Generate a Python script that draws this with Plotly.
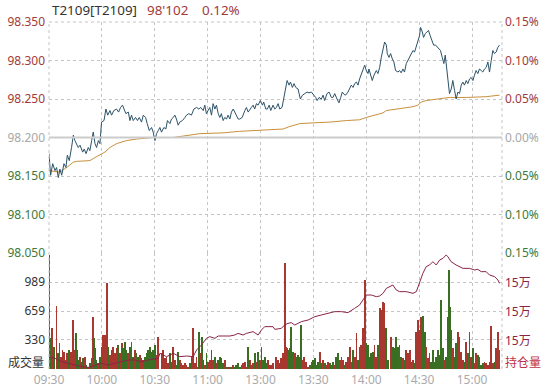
import numpy as np
import plotly.graph_objects as go

# ---------------- data ----------------
pre_close = 98.200
price_ticks = [98.050, 98.100, 98.150, 98.200, 98.250, 98.300, 98.350]
vol_ticks = [330, 659, 989]
oi_ticks = [150060, 150640, 151220]
time_ticks = [0, 30, 60, 90, 120, 150, 180, 210, 240]
time_labels = ["09:30", "10:00", "10:30", "11:00", "13:00", "13:30", "14:00", "14:30", "15:00"]

# minutes since 09:30 (lunch break removed) and last price
price_min_am = [0.0, 0.9, 2.1, 3.4, 4.3, 5.3, 6.2, 7.2, 8.5, 9.6,
                10.4, 11.5, 12.8, 13.8, 14.7, 15.7, 16.6, 17.6, 19.1, 20.0,
                21.0, 22.3, 23.2, 24.2, 25.1, 26.1, 27.0, 28.0, 28.9, 29.8,
                31.2, 32.3, 33.3, 34.6, 35.5, 36.8, 38.3, 39.5, 40.6, 41.7,
                42.7, 43.6, 45.0, 45.9, 46.8, 47.8, 49.1, 50.2, 51.2, 52.5,
                53.5, 54.8, 55.7, 56.9, 58.2, 59.1, 60.1, 61.0, 62.0, 62.9,
                63.8, 65.2, 66.3, 67.2, 68.6, 69.5, 70.5, 71.4, 72.3, 73.3,
                74.2, 75.7, 77.1, 78.0, 79.3, 80.8, 82.2, 83.7, 85.0, 86.1,
                87.5, 88.4, 89.3, 90.3, 91.2, 92.2, 93.1, 94.1, 95.0, 96.0,
                96.9, 97.8, 98.8, 99.7, 100.7, 101.6, 102.6, 103.5, 104.5, 105.4,
                106.3, 107.3, 108.2, 109.6, 111.1, 112.0, 113.0, 113.9, 114.8, 115.8,
                116.7, 117.7, 118.6, 119.9, 121.1, 121.8, 123.0, 123.9, 124.9, 125.8,
                127.1, 128.1, 129.0, 130.0, 130.9, 132.2, 133.2, 134.3, 135.1, 136.2]
price_am = [98.179, 98.151, 98.166, 98.157, 98.161, 98.148, 98.159, 98.151, 98.166, 98.161,
            98.177, 98.170, 98.187, 98.203, 98.196, 98.190, 98.187, 98.190, 98.181, 98.185,
            98.179, 98.187, 98.183, 98.196, 98.207, 98.192, 98.187, 98.196, 98.192, 98.220,
            98.222, 98.237, 98.229, 98.235, 98.229, 98.235, 98.237, 98.233, 98.239, 98.242,
            98.235, 98.231, 98.233, 98.222, 98.229, 98.222, 98.226, 98.222, 98.226, 98.220,
            98.229, 98.226, 98.218, 98.209, 98.213, 98.207, 98.196, 98.205, 98.209, 98.213,
            98.207, 98.213, 98.211, 98.222, 98.218, 98.224, 98.226, 98.229, 98.224, 98.216,
            98.220, 98.222, 98.226, 98.229, 98.231, 98.229, 98.237, 98.239, 98.237, 98.239,
            98.235, 98.242, 98.231, 98.235, 98.239, 98.229, 98.244, 98.237, 98.242, 98.231,
            98.226, 98.231, 98.222, 98.226, 98.224, 98.229, 98.224, 98.233, 98.237, 98.233,
            98.229, 98.224, 98.224, 98.226, 98.235, 98.239, 98.233, 98.237, 98.239, 98.242,
            98.237, 98.244, 98.242, 98.248, 98.242, 98.246, 98.237, 98.237, 98.242, 98.235,
            98.242, 98.237, 98.239, 98.244, 98.237, 98.239, 98.252, 98.263, 98.274, 98.268]

price_min_pm = [137.0, 138.1, 139.0, 140.0, 141.3, 142.6, 143.8, 145.1, 146.4, 147.5,
                148.9, 150.2, 151.3, 152.1, 153.2, 154.5, 155.5, 156.4, 157.7, 158.9,
                160.2, 161.1, 162.1, 163.4, 164.5, 165.5, 166.4, 167.4, 168.3, 169.6,
                170.6, 171.5, 172.5, 173.4, 174.4, 175.3, 176.2, 177.2, 178.1, 179.1,
                180.0, 181.0, 181.5, 182.3, 183.4, 184.4, 185.7, 186.6, 187.6, 188.5,
                189.5, 190.4, 191.4, 191.9, 192.9, 193.8, 194.8, 195.7, 196.6, 198.0,
                198.9, 199.8, 200.8, 201.7, 202.7, 203.6, 204.6, 205.5, 206.5, 207.4,
                208.3, 209.3, 210.2, 210.8, 211.8, 212.5, 213.5, 214.4, 215.3, 216.3,
                217.4, 218.2, 219.3, 220.3, 221.2, 222.1, 223.1, 224.0, 224.8, 225.7,
                226.7, 227.2, 228.2, 229.1, 230.1, 231.0, 232.0, 232.9, 233.9, 234.8,
                235.7, 236.7, 237.6, 238.6, 239.5, 240.5, 241.4, 242.3, 243.3, 244.2,
                245.2, 246.1, 247.1, 248.0, 249.0, 249.9, 250.9, 251.8, 252.7, 253.7,
                254.6, 255.6]
price_pm = [98.272, 98.265, 98.270, 98.265, 98.263, 98.250, 98.255, 98.257, 98.259, 98.258,
            98.259, 98.255, 98.252, 98.248, 98.252, 98.250, 98.255, 98.248, 98.257, 98.259,
            98.252, 98.252, 98.257, 98.250, 98.245, 98.252, 98.259, 98.256, 98.255, 98.259,
            98.263, 98.268, 98.265, 98.270, 98.272, 98.268, 98.276, 98.283, 98.289, 98.294,
            98.287, 98.283, 98.289, 98.281, 98.274, 98.281, 98.287, 98.283, 98.291, 98.304,
            98.315, 98.324, 98.320, 98.309, 98.304, 98.309, 98.302, 98.298, 98.287, 98.285,
            98.287, 98.284, 98.289, 98.285, 98.296, 98.300, 98.304, 98.309, 98.313, 98.311,
            98.317, 98.326, 98.332, 98.343, 98.337, 98.330, 98.335, 98.337, 98.339, 98.332,
            98.326, 98.320, 98.320, 98.317, 98.315, 98.313, 98.304, 98.296, 98.307, 98.289,
            98.270, 98.257, 98.263, 98.274, 98.261, 98.250, 98.259, 98.257, 98.268, 98.272,
            98.268, 98.274, 98.270, 98.276, 98.278, 98.274, 98.281, 98.287, 98.283, 98.289,
            98.287, 98.285, 98.289, 98.291, 98.298, 98.285, 98.300, 98.313, 98.309, 98.311,
            98.317, 98.320]

# average price
avg_min = [0.0, 6.2, 10.0, 13.8, 15.7, 23.2, 26.1, 28.9, 31.7, 34.6,
           38.3, 44.0, 49.7, 59.1, 70.5, 85.6, 98.8, 108.2, 117.7, 127.1,
           132.8, 136.2, 142.2, 149.8, 159.2, 168.7, 176.2, 180.0, 185.7, 189.5,
           191.3, 197.0, 206.5, 209.3, 211.2, 214.0, 221.6, 227.2, 236.7, 248.0, 255.6]
avg_price = [98.157, 98.155, 98.161, 98.168, 98.169, 98.170, 98.174, 98.177, 98.181, 98.187,
             98.192, 98.196, 98.198, 98.200, 98.200, 98.205, 98.206, 98.208, 98.209, 98.210,
             98.211, 98.214, 98.218, 98.219, 98.220, 98.222, 98.223, 98.226, 98.229, 98.232,
             98.235, 98.237, 98.240, 98.242, 98.246, 98.248, 98.250, 98.252, 98.252, 98.253, 98.255]

# volume (成交量)
vol_min = [0.0, 1.1, 1.9, 3.0, 4.3, 4.9, 5.9, 6.8, 7.7, 8.5,
           9.4, 10.4, 11.3, 12.3, 13.2, 13.8, 14.4, 15.1, 15.9, 16.6,
           17.6, 18.5, 19.5, 20.4, 21.3, 22.3, 23.2, 24.2, 25.1, 25.7,
           26.4, 27.0, 28.0, 28.9, 29.8, 30.8, 31.4, 32.1, 32.9, 33.6,
           34.6, 35.5, 36.5, 37.4, 38.3, 39.3, 40.2, 41.2, 42.1, 43.1,
           44.0, 45.0, 45.9, 46.8, 47.8, 48.7, 49.7, 50.6, 51.6, 52.5,
           53.5, 54.4, 55.3, 56.3, 57.2, 58.2, 59.1, 60.1, 61.0, 62.0,
           63.8, 64.8, 65.7, 66.7, 67.6, 68.6, 69.5, 70.5, 71.4, 72.4,
           73.3, 74.2, 75.2, 76.1, 77.1, 78.0, 79.0, 79.9, 80.9, 81.8,
           82.7, 83.7, 84.6, 85.2, 85.9, 86.7, 87.5, 88.4, 89.3, 90.3,
           91.2, 92.2, 93.1, 94.1, 95.0, 96.0, 96.9, 97.9, 98.8, 99.7,
           100.7, 101.6, 102.6, 103.5, 104.5, 105.4, 106.3, 107.3, 108.2, 109.2,
           110.1, 111.1, 112.0, 113.0, 113.9, 114.8, 115.8, 116.7, 117.7, 118.6,
           119.6, 120.5, 121.5, 122.4, 123.4, 124.3, 125.2, 126.2, 127.1,
           129.0, 130.0, 130.9, 131.8, 132.8, 133.7, 134.3, 135.2, 136.0, 136.6,
           137.5, 138.5, 139.4, 140.4, 141.3, 142.2, 142.8, 143.6, 144.7, 146.0,
           147.0, 147.9, 148.9, 149.8, 150.8, 151.7, 152.6, 153.6, 154.5, 155.5,
           156.4, 157.4, 158.3, 159.2, 160.2, 161.1, 162.1, 163.0, 164.0, 164.9,
           165.9, 166.8, 167.7, 168.7, 169.6, 170.6, 171.5, 172.5, 173.4, 174.4,
           175.3, 176.2, 177.2, 178.1, 179.1, 180.0, 181.0, 181.9, 182.9, 183.8,
           184.7, 185.7, 186.6, 187.6, 188.5, 189.5, 190.4, 191.4, 192.3,
           194.2, 195.1, 196.1, 197.0, 198.0, 198.9, 199.9, 200.8, 201.7, 202.7,
           203.6, 204.6, 205.5, 206.5, 207.4, 208.4, 209.3, 210.2, 211.2, 212.1,
           213.1, 214.0, 215.0, 215.9, 216.8, 217.8, 218.7, 219.7, 220.6, 221.6,
           222.5, 223.5, 224.4, 225.3, 226.3, 226.8, 227.6, 228.3, 229.1, 230.0,
           231.0, 231.9, 232.9, 233.8, 234.8, 235.7, 236.7, 237.6, 238.6, 239.5,
           240.4, 241.4, 242.3, 243.3, 244.2, 245.2, 246.1, 247.1, 248.0, 249.0,
           249.9, 250.9, 251.8, 252.8, 253.7, 254.7, 255.6]
volume = [1296, 349, 462, 254, 716, 178, 292, 140, 216, 197,
          102, 178, 216, 197, 64, 557, 216, 413, 216, 102,
          140, 83, 121, 140, 45, 27, 64, 121, 595, 349,
          235, 102, 64, 140, 254, 387, 387, 387, 974, 254,
          159, 216, 254, 178, 235, 273, 178, 292, 235, 311,
          216, 178, 254, 311, 140, 216, 178, 140, 159, 121,
          102, 140, 178, 216, 254, 197, 216, 273, 159, 368,
          178, 216, 121, 140, 64, 178, 83, 254, 102, 45,
          197, 102, 64, 45, 64, 45, 27, 64, 140, 462,
          64, 140, 27, 424, 178, 368, 102, 45, 178, 83,
          102, 216, 102, 140, 64, 102, 140, 121, 64, 102,
          27, 19, 27, 27, 45, 27, 45, 64, 27, 45,
          64, 83, 27, 254, 102, 45, 64, 178, 83, 197,
          102, 254, 102, 140, 64, 102, 45, 45, 64,
          140, 102, 64, 121, 178, 1201, 254, 235, 216, 235,
          481, 197, 178, 140, 159, 140, 500, 102, 140, 83,
          27, 45, 83, 102, 121, 45, 83, 197, 64, 102,
          64, 45, 83, 64, 45, 83, 45, 140, 178, 102,
          140, 102, 45, 83, 140, 254, 83, 216, 140, 406,
          102, 254, 273, 462, 1012, 292, 273, 140, 178, 197,
          273, 140, 273, 690, 671, 766, 747, 462, 102,
          368, 254, 235, 368, 254, 273, 140, 121, 102, 216,
          178, 216, 83, 102, 64, 424, 557, 443, 595, 603,
          424, 254, 121, 178, 83, 216, 83, 140, 216, 159,
          785, 235, 102, 140, 595, 1126, 709, 443, 235, 140,
          292, 424, 368, 197, 102, 83, 311, 178, 424, 140,
          235, 64, 178, 159, 140, 45, 64, 83, 64, 45,
          83, 489, 64, 83, 235, 424, 216]

# open interest (持仓量)
oi_min = [0.0, 3.4, 7.2, 11.0, 14.7, 18.5, 22.3, 26.1, 29.8, 33.6,
          37.4, 41.2, 45.0, 48.7, 52.5, 56.3, 62.0, 62.9, 66.7, 70.5,
          74.2, 78.0, 81.8, 83.7, 86.5, 89.3, 91.2, 94.1, 96.0, 98.8,
          102.6, 105.4, 107.3, 110.1, 112.0, 115.8, 118.6, 120.5, 122.4, 127.1,
          128.1, 131.8, 133.7, 135.6, 137.5, 139.4, 143.2, 147.0, 150.8, 154.5,
          158.3, 162.1, 165.9, 169.6, 173.4, 176.2, 178.1, 180.0, 182.9, 185.7,
          187.6, 189.5, 191.4, 192.3, 193.2, 195.1, 197.0, 198.9, 202.7, 206.5,
          208.4, 210.2, 212.1, 214.0, 215.9, 217.8, 219.7, 221.6, 223.5, 225.3,
          226.3, 228.1, 231.0, 234.8, 238.6, 241.4, 243.3, 245.2, 248.0, 249.9,
          252.8, 254.7, 255.6]
open_interest = [149747, 149713, 149647, 149613, 149580, 149547, 149533, 149580, 149613, 149580,
                 149613, 149647, 149680, 149680, 149647, 149680, 149713, 149813, 149747, 149813,
                 149747, 149760, 149747, 149880, 149980, 150113, 150147, 150113, 150160, 150160,
                 150160, 150180, 150213, 150180, 150213, 150247, 150180, 150280, 150347, 150347,
                 150293, 150313, 150380, 150413, 150427, 150380, 150447, 150480, 150547, 150580,
                 150613, 150647, 150647, 150627, 150713, 150780, 150880, 150980, 150980, 150947,
                 150960, 151013, 151113, 151133, 151147, 151180, 151080, 151047, 151047, 151013,
                 151047, 151247, 151413, 151547, 151580, 151647, 151580, 151680, 151713, 151780,
                 151747, 151647, 151580, 151513, 151513, 151480, 151493, 151447, 151447, 151380,
                 151347, 151280, 151213]

header_code = "T2109[T2109]"
header_price = "98'102"
header_pct = "0.12%"

# ---------------- styling ----------------
RED = "#a23a3a"
GREEN = "#3d7a3a"
GRAY = "#a8a8a8"
GRID = "#c4c4c4"
FONT = "Noto Sans, Noto Sans CJK SC, sans-serif"

price_min = price_min_am + price_min_pm
price = price_am + price_pm

# bar colour: red if price rose over the minute, green otherwise
p_now = np.interp(vol_min, price_min, price)
p_prev = np.interp(np.array(vol_min) - 1.0, price_min, price)
bar_colors = ["#a8372f" if a >= b else "#3a6e22" for a, b in zip(p_now, p_prev)]


def lcol(v):
    if abs(v - pre_close) < 1e-9:
        return GRAY
    return RED if v > pre_close else GREEN


left_text = [f"<span style='color:{lcol(v)}'>{v:.3f}</span>" for v in price_ticks]
right_text = [f"<span style='color:{lcol(v)}'>{abs((v - pre_close) / pre_close * 100):.2f}%</span>"
              for v in price_ticks]
oi_text = [f"{round(v / 10000)}万" for v in oi_ticks]

split = 116 / 347  # volume panel share of plot height

fig = go.Figure()
fig.add_trace(go.Bar(x=vol_min, y=volume, width=0.45, marker=dict(color=bar_colors, line=dict(width=0)),
                     xaxis="x", yaxis="y2", hoverinfo="skip"))
fig.add_trace(go.Scatter(x=oi_min, y=open_interest, mode="lines", line=dict(color="#8a2346", width=1),
                         xaxis="x", yaxis="y4", hoverinfo="skip"))
fig.add_trace(go.Scatter(x=avg_min, y=avg_price, mode="lines", line=dict(color="#c8903c", width=1),
                         xaxis="x", yaxis="y", hoverinfo="skip"))
fig.add_trace(go.Scatter(x=price_min, y=price, mode="lines", line=dict(color="#2b5268", width=1),
                         xaxis="x", yaxis="y", hoverinfo="skip"))
fig.add_trace(go.Scatter(x=[0], y=[pre_close], mode="markers", marker=dict(opacity=0),
                         xaxis="x", yaxis="y3", hoverinfo="skip"))

axis_common = dict(showline=False, zeroline=False, ticks="", fixedrange=True, automargin=False)

fig.update_layout(
    width=548, height=391,
    margin=dict(l=49, r=46, t=22, b=22),
    paper_bgcolor="white", plot_bgcolor="white",
    showlegend=False, bargap=0, barmode="overlay",
    font=dict(family=FONT, size=12, color="#333"),
    xaxis=dict(range=[0, 257], tickvals=time_ticks, ticktext=time_labels, anchor="y2",
               showgrid=True, gridcolor=GRID, griddash="dot", gridwidth=1,
               tickfont=dict(color="#aaaaaa", size=12), ticklabelstandoff=2, **axis_common),
    yaxis=dict(domain=[split, 1], range=[98.050, 98.350], tickvals=price_ticks, ticktext=left_text,
               showgrid=True, gridcolor=GRID, griddash="dot", anchor="x",
               tickfont=dict(size=12), ticklabelstandoff=3, **axis_common),
    yaxis2=dict(domain=[0, split], range=[0, 1319], tickvals=vol_ticks, ticktext=[str(v) for v in vol_ticks],
                showgrid=True, gridcolor=GRID, griddash="dot", anchor="x",
                tickfont=dict(size=12, color="#333"), ticklabelstandoff=3, **axis_common),
    yaxis3=dict(overlaying="y", side="right", range=[98.050, 98.350], tickvals=price_ticks,
                ticktext=right_text, showgrid=False, anchor="x",
                tickfont=dict(size=12), ticklabelstandoff=2, **axis_common),
    yaxis4=dict(overlaying="y2", side="right", range=[149500, 151820], tickvals=oi_ticks,
                ticktext=oi_text, showgrid=False, anchor="x",
                tickfont=dict(size=12, color="#8a2346"), ticklabelstandoff=2, **axis_common),
)

shapes = [
    dict(type="line", xref="paper", x0=0, x1=1, yref="y", y0=pre_close, y1=pre_close,
         line=dict(color="#cccccc", width=2)),
    dict(type="line", xref="paper", x0=0, x1=1, yref="paper", y0=1, y1=1,
         line=dict(color=GRID, width=1, dash="dot")),
    dict(type="line", xref="paper", x0=1, x1=1, yref="paper", y0=0, y1=1,
         line=dict(color=GRID, width=1, dash="dot")),
    dict(type="line", xref="paper", x0=0, x1=0, yref="paper", y0=0, y1=1,
         line=dict(color=GRID, width=1, dash="dot")),
]
fig.update_layout(shapes=shapes)

ann = [
    dict(text=header_code, x=0.002, y=1.035, xanchor="left", yanchor="middle",
         font=dict(size=13.4, color="#333")),
    dict(text=header_price, x=0.212, y=1.035, xanchor="left", yanchor="middle",
         font=dict(size=13.4, color=RED)),
    dict(text=header_pct, x=0.333, y=1.035, xanchor="left", yanchor="middle",
         font=dict(size=13.4, color=RED)),
    dict(text="成交量", x=0, y=0.02, xanchor="right", yanchor="middle", xshift=-3,
         font=dict(size=12, color="#333")),
    dict(text="持仓量", x=1, y=0.02, xanchor="left", yanchor="middle", xshift=1,
         font=dict(size=12, color="#c0304a")),
]
for a in ann:
    a.update(xref="paper", yref="paper", showarrow=False)
fig.update_layout(annotations=ann)

fig.write_html("out.html", config={"displayModeBar": False},
               post_script="document.body.style.margin='0';document.body.style.overflow='hidden';")
